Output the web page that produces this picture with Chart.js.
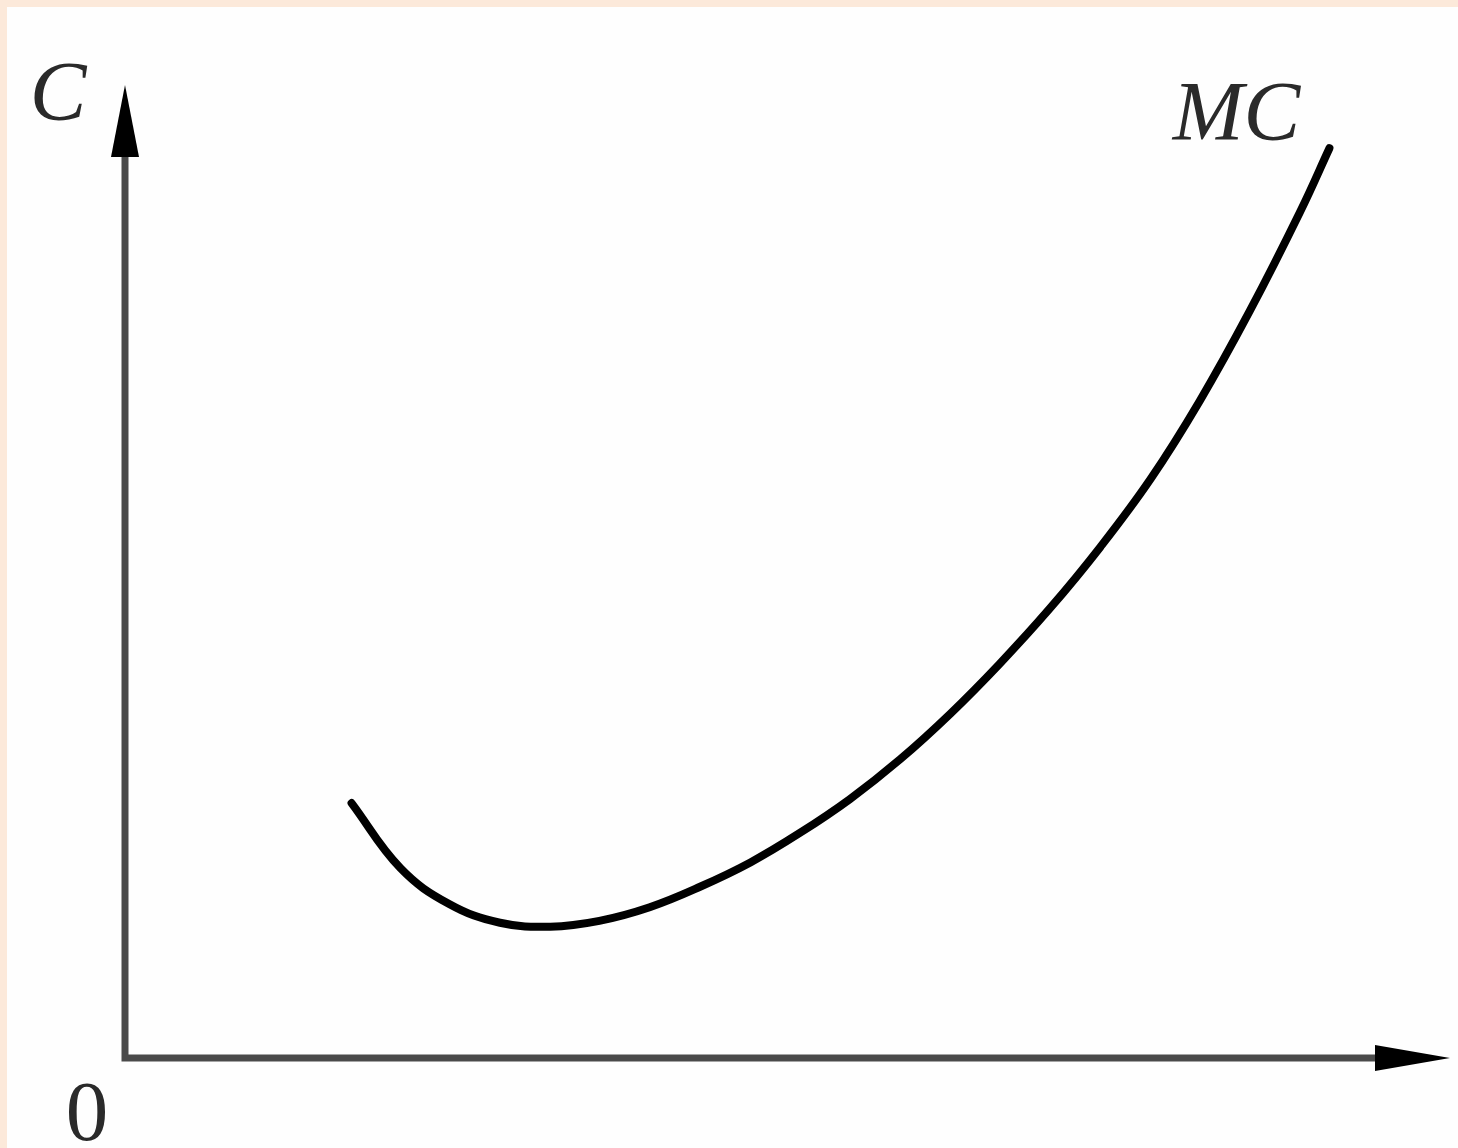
<!DOCTYPE html>
<html>
<head>
<meta charset="utf-8">
<script src="https://cdn.jsdelivr.net/npm/chart.js@4/dist/chart.umd.min.js"></script>
<style>
  html, body { margin: 0; padding: 0; background: #fce9da; }
  #box { position: absolute; left: 7px; top: 7px; width: 1451px; height: 1141px; background: #fefefe; }
  #chart { display: block; }
</style>
</head>
<body>
<div id="box"><canvas id="chart" width="1451" height="1141"></canvas></div>
<script>
// quantity (x) and marginal cost (y)
const quantity = [1.71, 2.08, 2.45, 2.83, 3.21, 3.58, 3.96, 4.34, 4.72, 5.09, 5.47, 5.85, 6.23, 6.60, 6.98, 7.36, 7.74, 8.11, 8.49, 8.87, 9.09];
const marginalCost = [2.62, 1.95, 1.58, 1.39, 1.35, 1.41, 1.55, 1.76, 2.01, 2.31, 2.66, 3.07, 3.54, 4.05, 4.62, 5.25, 5.95, 6.75, 7.68, 8.70, 9.35];
const axisMax = 10;
const yLabel = 'C';
const curveLabel = 'MC';
const originLabel = '0';

const points = quantity.map((q, i) => ({ x: q, y: marginalCost[i] }));

// draws the two axes with arrows and the labels
const axesPlugin = {
    id: 'axesPlugin',
    beforeDatasetsDraw(chart) {
        const { ctx, scales } = chart;
        const x0 = scales.x.getPixelForValue(0);
        const x1 = scales.x.getPixelForValue(axisMax);
        const y0 = scales.y.getPixelForValue(0);
        const y1 = scales.y.getPixelForValue(axisMax);
        ctx.save();
        ctx.strokeStyle = '#4a4a4a';
        ctx.lineWidth = 7;
        ctx.beginPath();
        ctx.moveTo(x0, y1 + 40);
        ctx.lineTo(x0, y0);
        ctx.lineTo(x1 - 40, y0);
        ctx.stroke();

        ctx.fillStyle = '#000';
        ctx.beginPath();
        ctx.moveTo(x0, y1);
        ctx.lineTo(x0 - 14, y1 + 72);
        ctx.lineTo(x0 + 14, y1 + 72);
        ctx.closePath();
        ctx.fill();
        ctx.beginPath();
        ctx.moveTo(x1, y0);
        ctx.lineTo(x1 - 75, y0 - 13);
        ctx.lineTo(x1 - 75, y0 + 13);
        ctx.closePath();
        ctx.fill();

        ctx.fillStyle = '#2a2a2a';
        ctx.textBaseline = 'alphabetic';
        ctx.textAlign = 'center';
        ctx.font = 'italic 85px "Liberation Serif", "DejaVu Serif", serif';
        ctx.fillText(yLabel, x0 - 67, y1 + 35);
        const last = points[points.length - 1];
        ctx.fillText(curveLabel, scales.x.getPixelForValue(last.x) - 93, scales.y.getPixelForValue(last.y) - 8);
        ctx.font = '85px "Liberation Serif", "DejaVu Serif", serif';
        ctx.fillText(originLabel, x0 - 38, y0 + 82);
        ctx.restore();
    }
};

new Chart(document.getElementById('chart').getContext('2d'), {
    type: 'scatter',
    data: {
        datasets: [{
            label: curveLabel,
            data: points,
            showLine: true,
            borderColor: '#000',
            borderWidth: 8,
            borderCapStyle: 'round',
            pointRadius: 0,
            tension: 0.4,
            fill: false
        }]
    },
    options: {
        responsive: false,
        animation: false,
        layout: { padding: { left: 118, top: 78, right: 8, bottom: 90 } },
        plugins: { legend: { display: false }, tooltip: { enabled: false } },
        scales: {
            x: { type: 'linear', min: 0, max: axisMax, display: false },
            y: { type: 'linear', min: 0, max: axisMax, display: false }
        }
    },
    plugins: [axesPlugin]
});
</script>
</body>
</html>
